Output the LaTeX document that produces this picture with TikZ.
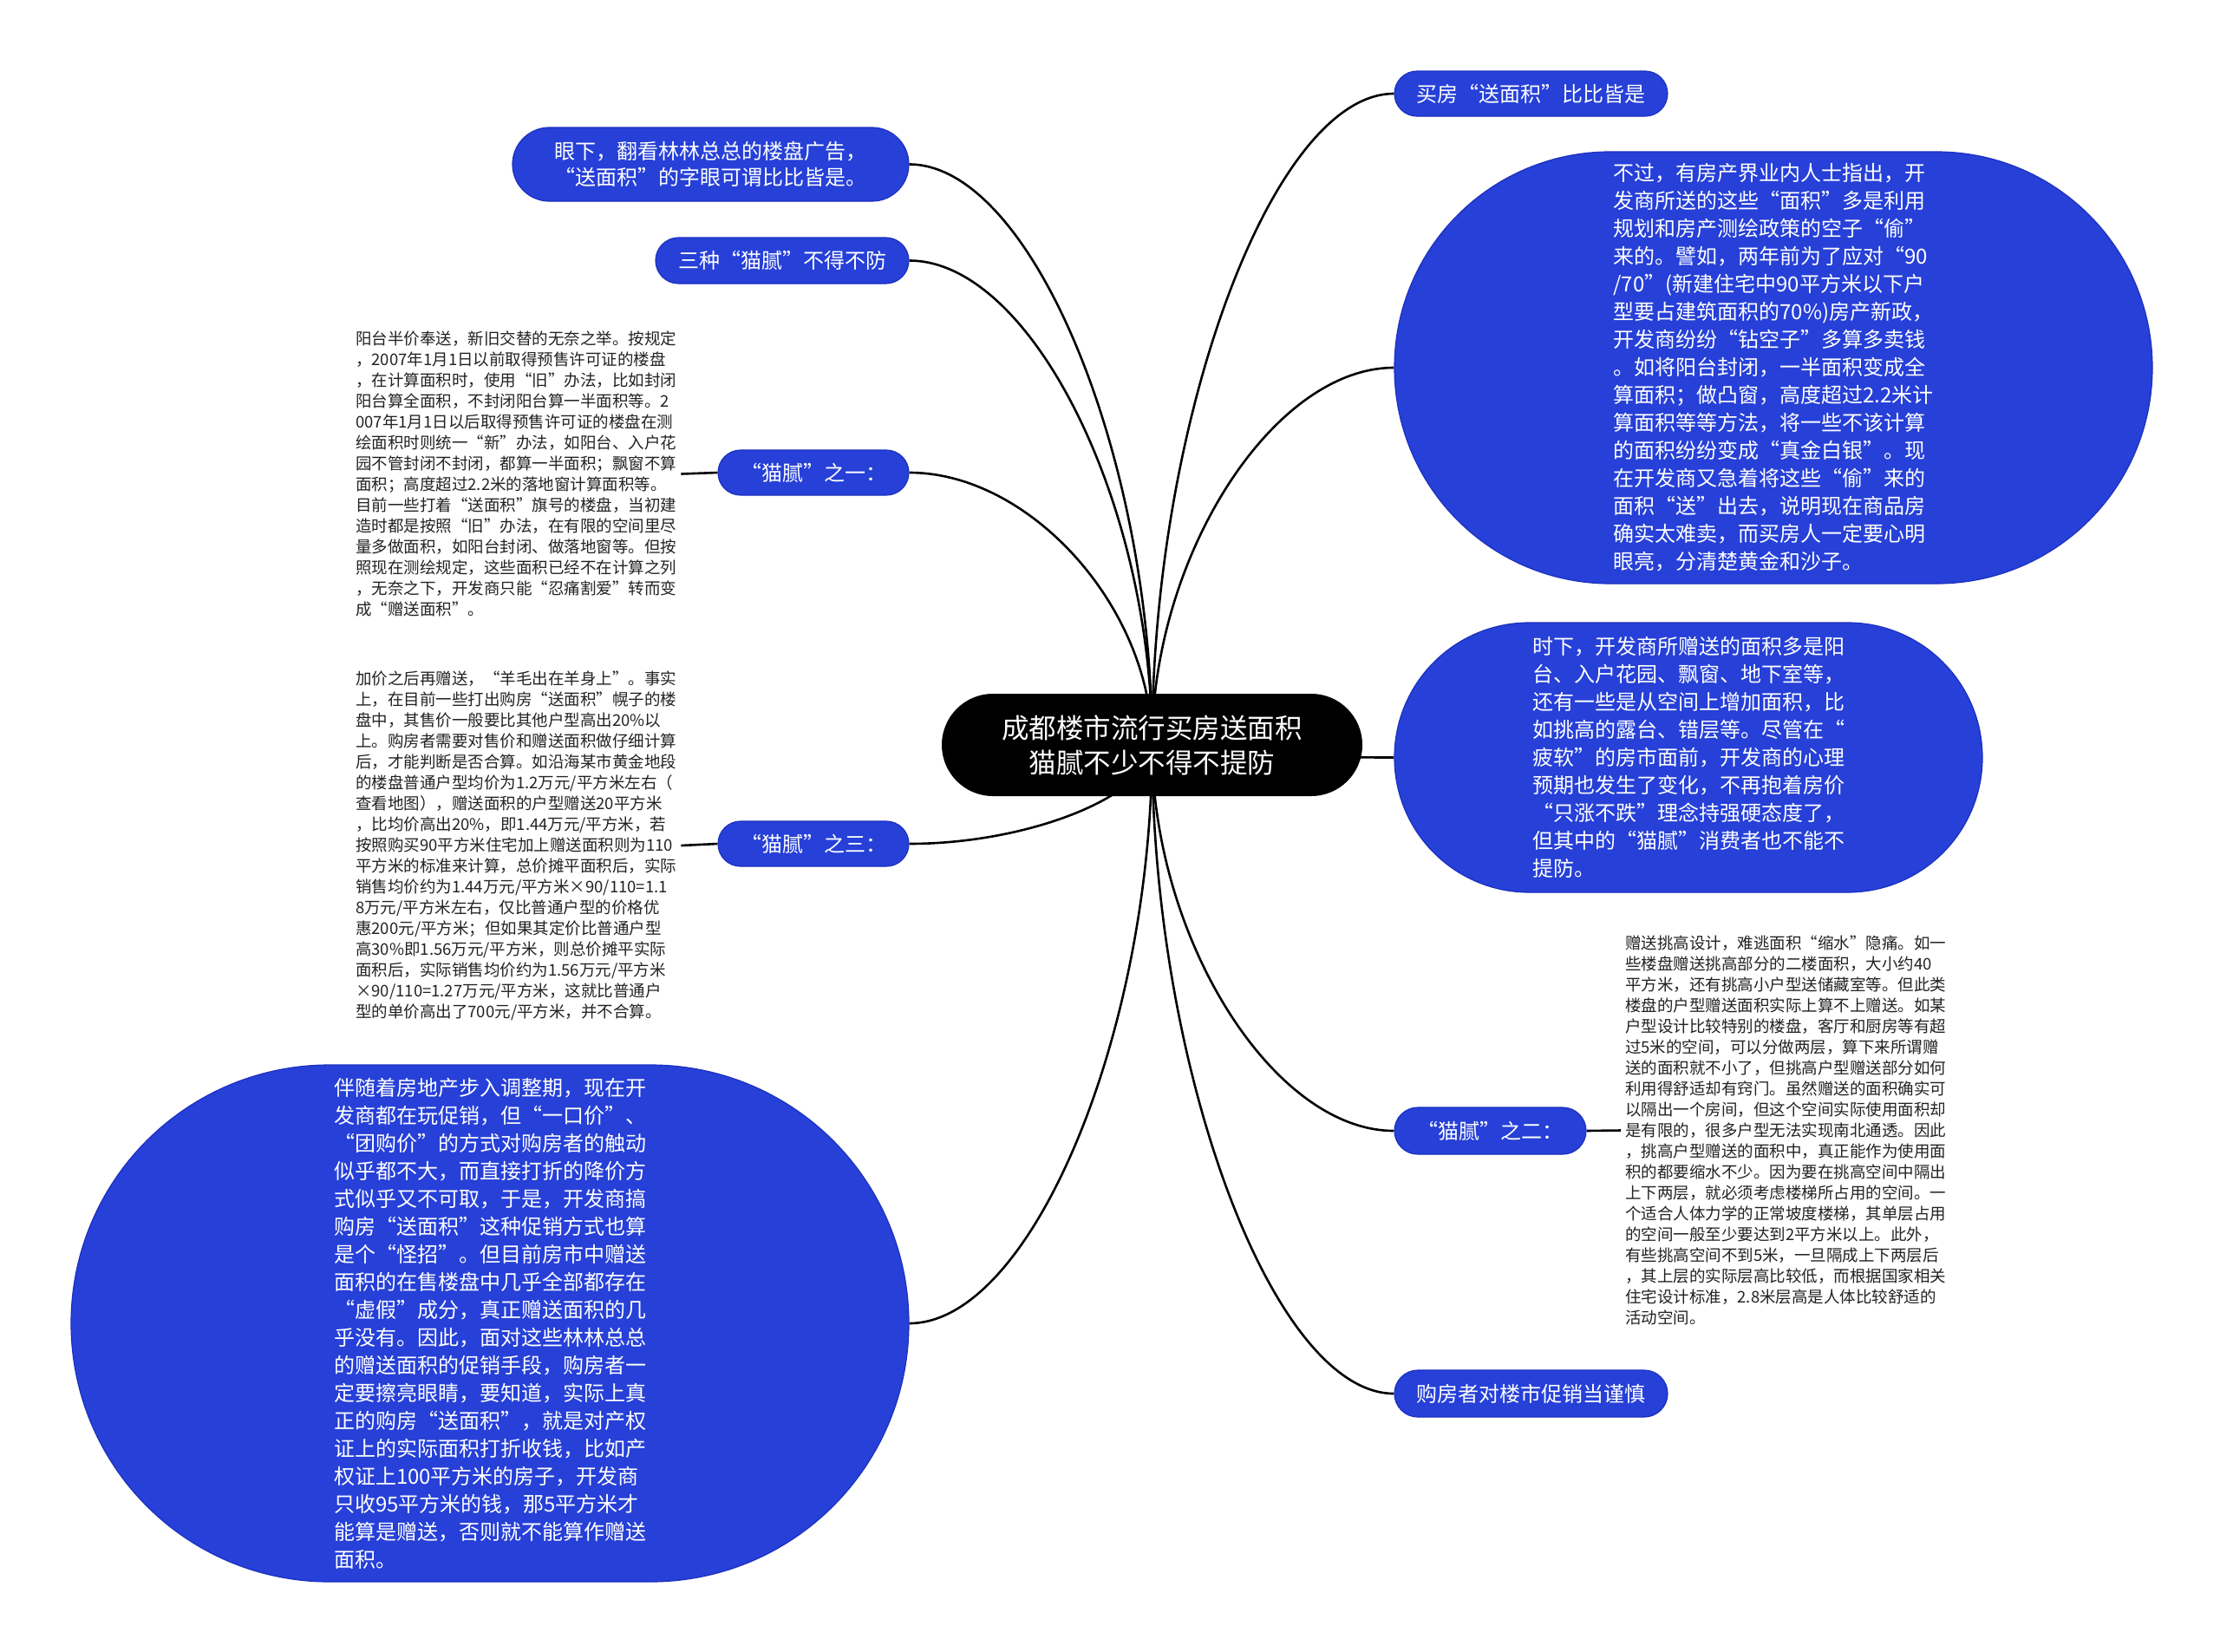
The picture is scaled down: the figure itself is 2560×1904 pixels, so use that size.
\documentclass[tikz,border=0pt]{standalone}
\usepackage{fontspec}
\setmainfont{Noto Sans CJK SC}
\usetikzlibrary{calc,backgrounds}
\definecolor{mmblue}{RGB}{38,64,216}
\definecolor{mmedge}{RGB}{28,48,190}
\definecolor{txtgray}{RGB}{34,34,34}
\tikzset{
  pillbox/.style={fill=mmblue, draw=mmedge, line width=1.2pt, text=white, inner sep=0pt, align=left, font=\fontsize{24pt}{32pt}\selectfont},
  rootbox/.style={fill=black, text=white, inner sep=0pt, align=center, font=\fontsize{31.5pt}{40pt}\selectfont, minimum width=485pt, minimum height=118pt, rounded corners=59pt},
  plaintextbox/.style={text=txtgray, inner sep=5pt, align=left, font=\fontsize{18.5pt}{24pt}\selectfont},
  linkline/.style={draw=black, line width=2.6pt},
  mmcurve/.style={to path={let \p1=(\tikztostart), \p2=(\tikztotarget) in .. controls (\x1,{0.5*\y1+0.5*\y2}) and ({0.5*\x1+0.5*\x2},\y2) .. (\tikztotarget)}}
}
\begin{document}
\begin{tikzpicture}[x=1pt,y=-1pt]
\useasboundingbox (0,0) rectangle (2560,1904);

\node[rootbox] (C) at (1328.5,859) {成都楼市流行买房送面积\\猫腻不少不得不提防};

\node[pillbox, minimum width=315pt, minimum height=52pt, rounded corners=26pt] (R1) at (1765.5,108) {买房“送面积”比比皆是};

\node[pillbox, minimum width=874pt, minimum height=498pt, rounded corners=249pt] (R2) at (2045,424) {不过，有房产界业内人士指出，开\\发商所送的这些“面积”多是利用\\规划和房产测绘政策的空子“偷”\\来的。譬如，两年前为了应对“90\\/70”(新建住宅中90平方米以下户\\型要占建筑面积的70\%)房产新政，\\开发商纷纷“钻空子”多算多卖钱\\。如将阳台封闭，一半面积变成全\\算面积；做凸窗，高度超过2.2米计\\算面积等等方法，将一些不该计算\\的面积纷纷变成“真金白银”。现\\在开发商又急着将这些“偷”来的\\面积“送”出去，说明现在商品房\\确实太难卖，而买房人一定要心明\\眼亮，分清楚黄金和沙子。};

\node[pillbox, minimum width=678pt, minimum height=311pt, rounded corners=155.5pt] (R3) at (1947,873.5) {时下，开发商所赠送的面积多是阳\\台、入户花园、飘窗、地下室等，\\还有一些是从空间上增加面积，比\\如挑高的露台、错层等。尽管在“\\疲软”的房市面前，开发商的心理\\预期也发生了变化，不再抱着房价\\“只涨不跌”理念持强硬态度了，\\但其中的“猫腻”消费者也不能不\\提防。};

\node[pillbox, minimum width=221pt, minimum height=54pt, rounded corners=27pt] (R4) at (1718.5,1304) {“猫腻”之二：};

\node[plaintextbox, anchor=west] (R4T) at (1869,1303.5) {赠送挑高设计，难逃面积“缩水”隐痛。如一\\些楼盘赠送挑高部分的二楼面积，大小约40\\平方米，还有挑高小户型送储藏室等。但此类\\楼盘的户型赠送面积实际上算不上赠送。如某\\户型设计比较特别的楼盘，客厅和厨房等有超\\过5米的空间，可以分做两层，算下来所谓赠\\送的面积就不小了，但挑高户型赠送部分如何\\利用得舒适却有窍门。虽然赠送的面积确实可\\以隔出一个房间，但这个空间实际使用面积却\\是有限的，很多户型无法实现南北通透。因此\\，挑高户型赠送的面积中，真正能作为使用面\\积的都要缩水不少。因为要在挑高空间中隔出\\上下两层，就必须考虑楼梯所占用的空间。一\\个适合人体力学的正常坡度楼梯，其单层占用\\的空间一般至少要达到2平方米以上。此外，\\有些挑高空间不到5米，一旦隔成上下两层后\\，其上层的实际层高比较低，而根据国家相关\\住宅设计标准，2.8米层高是人体比较舒适的\\活动空间。};

\node[pillbox, minimum width=315pt, minimum height=54pt, rounded corners=27pt] (R5) at (1765.5,1607) {购房者对楼市促销当谨慎};

\node[pillbox, minimum width=457pt, minimum height=85pt, rounded corners=42.5pt, font=\fontsize{24pt}{30pt}\selectfont] (L1) at (819.5,189.5) {眼下，翻看林林总总的楼盘广告，\\“送面积”的字眼可谓比比皆是。};

\node[pillbox, minimum width=292pt, minimum height=53pt, rounded corners=26.5pt] (L2) at (902,300.5) {三种“猫腻”不得不防};

\node[pillbox, minimum width=220pt, minimum height=52pt, rounded corners=26pt] (L3) at (938,545) {“猫腻”之一：};

\node[plaintextbox, anchor=west] (L3T) at (405,546.5) {阳台半价奉送，新旧交替的无奈之举。按规定\\，2007年1月1日以前取得预售许可证的楼盘\\，在计算面积时，使用“旧”办法，比如封闭\\阳台算全面积，不封闭阳台算一半面积等。2\\007年1月1日以后取得预售许可证的楼盘在测\\绘面积时则统一“新”办法，如阳台、入户花\\园不管封闭不封闭，都算一半面积；飘窗不算\\面积；高度超过2.2米的落地窗计算面积等。\\目前一些打着“送面积”旗号的楼盘，当初建\\造时都是按照“旧”办法，在有限的空间里尽\\量多做面积，如阳台封闭、做落地窗等。但按\\照现在测绘规定，这些面积已经不在计算之列\\，无奈之下，开发商只能“忍痛割爱”转而变\\成“赠送面积”。};

\node[pillbox, minimum width=220pt, minimum height=52pt, rounded corners=26pt] (L4) at (938,973) {“猫腻”之三：};

\node[plaintextbox, anchor=west] (L4T) at (405,975) {加价之后再赠送，“羊毛出在羊身上”。事实\\上，在目前一些打出购房“送面积”幌子的楼\\盘中，其售价一般要比其他户型高出20\%以\\上。购房者需要对售价和赠送面积做仔细计算\\后，才能判断是否合算。如沿海某市黄金地段\\的楼盘普通户型均价为1.2万元/平方米左右（\\查看地图），赠送面积的户型赠送20平方米\\，比均价高出20\%，即1.44万元/平方米，若\\按照购买90平方米住宅加上赠送面积则为110\\平方米的标准来计算，总价摊平面积后，实际\\销售均价约为1.44万元/平方米×90/110=1.1\\8万元/平方米左右，仅比普通户型的价格优\\惠200元/平方米；但如果其定价比普通户型\\高30\%即1.56万元/平方米，则总价摊平实际\\面积后，实际销售均价约为1.56万元/平方米\\×90/110=1.27万元/平方米，这就比普通户\\型的单价高出了700元/平方米，并不合算。};

\node[pillbox, minimum width=966pt, minimum height=596pt, rounded corners=298pt] (L5) at (565,1526) {伴随着房地产步入调整期，现在开\\发商都在玩促销，但“一口价”、\\“团购价”的方式对购房者的触动\\似乎都不大，而直接打折的降价方\\式似乎又不可取，于是，开发商搞\\购房“送面积”这种促销方式也算\\是个“怪招”。但目前房市中赠送\\面积的在售楼盘中几乎全部都存在\\“虚假”成分，真正赠送面积的几\\乎没有。因此，面对这些林林总总\\的赠送面积的促销手段，购房者一\\定要擦亮眼睛，要知道，实际上真\\正的购房“送面积”，就是对产权\\证上的实际面积打折收钱，比如产\\权证上100平方米的房子，开发商\\只收95平方米的钱，那5平方米才\\能算是赠送，否则就不能算作赠送\\面积。};

\begin{scope}[on background layer]
  \fill[white] (0,0) rectangle (2560,1904);
  \draw[linkline] (C.center) to[mmcurve] (L1.east);
  \draw[linkline] (C.center) to[mmcurve] (L2.east);
  \draw[linkline] (C.center) to[mmcurve] (L3.east);
  \draw[linkline] (C.center) to[mmcurve] (L4.east);
  \draw[linkline] (C.center) to[mmcurve] (L5.east);
  \draw[linkline] (C.center) to[mmcurve] (R1.west);
  \draw[linkline] (C.center) to[mmcurve] (R2.west);
  \draw[linkline] (C.center) to[mmcurve] (R3.west);
  \draw[linkline] (C.center) to[mmcurve] (R4.west);
  \draw[linkline] (C.center) to[mmcurve] (R5.west);
  \draw[linkline] (L3T.east) -- (L3.west);
  \draw[linkline] (L4T.east) -- (L4.west);
  \draw[linkline] (R4.east) -- (R4T.west);
\end{scope}
\end{tikzpicture}
\end{document}
